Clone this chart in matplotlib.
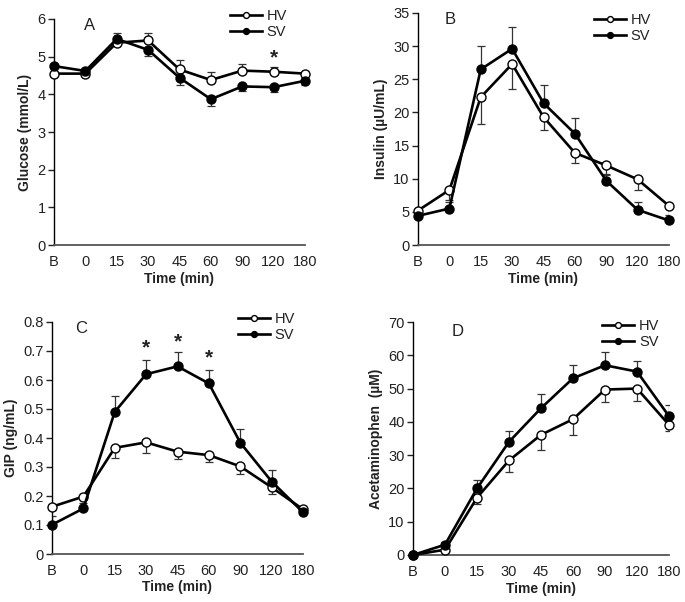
import matplotlib
matplotlib.use("Agg")
import matplotlib.pyplot as plt
import numpy as np

plt.rcParams['font.family'] = ['Liberation Sans', 'DejaVu Sans']

times = ["B", "0", "15", "30", "45", "60", "90", "120", "180"]

# Panel A - Glucose (mmol/L)
glu_hv = [4.55, 4.55, 5.37, 5.43, 4.66, 4.38, 4.63, 4.60, 4.55]
glu_hv_err = [0.05, 0.05, 0.25, 0.20, 0.25, 0.21, 0.18, 0.13, 0.05]
glu_sv = [4.75, 4.62, 5.47, 5.18, 4.44, 3.87, 4.21, 4.19, 4.36]
glu_sv_err = [0.05, 0.05, 0.10, 0.16, 0.20, 0.18, 0.11, 0.12, 0.10]

# Panel B - Insulin (µU/mL)
ins_hv = [5.2, 8.3, 22.3, 27.3, 19.3, 13.9, 12.0, 9.9, 5.9]
ins_hv_err = [0.5, 1.5, 4.0, 3.7, 2.0, 1.5, 1.4, 1.6, 1.3]
ins_sv = [4.4, 5.5, 26.5, 29.6, 21.4, 16.8, 9.7, 5.3, 3.7]
ins_sv_err = [0.4, 1.0, 3.5, 3.3, 2.8, 2.3, 1.0, 1.2, 0.5]

# Panel C - GIP (ng/mL)
gip_hv = [0.163, 0.198, 0.366, 0.385, 0.353, 0.341, 0.302, 0.230, 0.154]
gip_hv_err = [0.010, 0.010, 0.035, 0.035, 0.024, 0.025, 0.027, 0.022, 0.008]
gip_sv = [0.101, 0.157, 0.490, 0.620, 0.647, 0.588, 0.384, 0.250, 0.144]
gip_sv_err = [0.030, 0.020, 0.054, 0.050, 0.048, 0.047, 0.046, 0.040, 0.008]

# Panel D - Acetaminophen (µM)
ace_hv = [0.0, 1.6, 17.2, 28.4, 36.1, 40.8, 49.7, 50.0, 39.1]
ace_hv_err = [0.0, 0.5, 2.0, 3.4, 4.5, 4.8, 3.8, 3.6, 1.8]
ace_sv = [0.0, 3.1, 20.0, 34.0, 44.1, 53.1, 57.0, 55.1, 41.7]
ace_sv_err = [0.0, 0.8, 2.6, 3.2, 4.4, 4.1, 3.9, 3.3, 3.5]

panels = [
    dict(rect=[54/685, 1-245/602, 251/685, 226/602], hv=glu_hv, hve=glu_hv_err,
         sv=glu_sv, sve=glu_sv_err, hv_up=True, ylim=6, step=1, fmt="{:g}",
         ylabel="Glucose (mmol/L)", letter="A", letter_xy=(0.95, 5.82),
         stars=[(7, 4.98)], leg=(0.66, 1.09)),
    dict(rect=[418/685, 1-245/602, 251/685, 232/602], hv=ins_hv, hve=ins_hv_err,
         sv=ins_sv, sve=ins_sv_err, hv_up=False, ylim=35, step=5, fmt="{:g}",
         ylabel="Insulin (µU/mL)", letter="B", letter_xy=(0.85, 34.0),
         stars=[], leg=(0.66, 1.045)),
    dict(rect=[52/685, 1-554/602, 251/685, 232/602], hv=gip_hv, hve=gip_hv_err,
         sv=gip_sv, sve=gip_sv_err, hv_up=False, ylim=0.8, step=0.1, fmt="{:g}",
         ylabel="GIP (ng/mL)", letter="C", letter_xy=(0.75, 0.778),
         stars=[(3, 0.71), (4, 0.732), (5, 0.675)], leg=(0.70, 1.087)),
    dict(rect=[413/685, 1-555/602, 256/685, 233/602], hv=ace_hv, hve=ace_hv_err,
         sv=ace_sv, sve=ace_sv_err, hv_up=False, ylim=70, step=10, fmt="{:g}",
         ylabel="Acetaminophen  (µM)", letter="D", letter_xy=(1.2, 67.0),
         stars=[], leg=(0.70, 1.057)),
]

fig = plt.figure(figsize=(6.85, 6.02), dpi=100)
x = np.arange(len(times))
txtc = "#222222"

for p in panels:
    ax = fig.add_axes(p["rect"])
    hv = np.array(p["hv"]); sv = np.array(p["sv"])
    hve = np.array(p["hve"]); sve = np.array(p["sve"])
    if p["hv_up"]:
        hv_yerr = [np.zeros_like(hve), hve]
        sv_yerr = [sve, np.zeros_like(sve)]
    else:
        hv_yerr = [hve, np.zeros_like(hve)]
        sv_yerr = [np.zeros_like(sve), sve]
    ax.errorbar(x, hv, yerr=hv_yerr, fmt="none", ecolor="#333333",
                elinewidth=0.9, capsize=2.8, capthick=0.9, zorder=2)
    ax.errorbar(x, sv, yerr=sv_yerr, fmt="none", ecolor="#333333",
                elinewidth=0.9, capsize=2.8, capthick=0.9, zorder=2)
    ax.plot(x, hv, "-o", color="black", mfc="white", mec="black",
            ms=6.5, mew=1.0, lw=1.9, label="HV", zorder=3, clip_on=False)
    ax.plot(x, sv, "-o", color="black", mfc="black", mec="black",
            ms=6.5, mew=1.0, lw=1.9, label="SV", zorder=4, clip_on=False)
    ax.set_xlim(0, len(times) - 1)
    ax.set_ylim(0, p["ylim"])
    yt = np.arange(0, p["ylim"] + p["step"] / 2, p["step"])
    ax.set_yticks(yt)
    ax.set_yticklabels([p["fmt"].format(round(v, 2)) for v in yt])
    ax.set_xticks(x)
    ax.set_xticklabels(times)
    ax.tick_params(axis="x", length=0, pad=7, labelsize=10.5, colors=txtc)
    ax.tick_params(axis="y", length=4, width=1, direction="out", pad=2,
                   labelsize=10.5, colors=txtc)
    for s in ["top", "right"]:
        ax.spines[s].set_visible(False)
    ax.spines["left"].set_color("black")
    ax.spines["left"].set_linewidth(1.0)
    ax.spines["bottom"].set_color("#555555")
    ax.spines["bottom"].set_linewidth(1.3)
    ax.set_xlabel("Time (min)", fontsize=10, fontweight="bold", color=txtc,
                  labelpad=2)
    ax.set_ylabel(p["ylabel"], fontsize=10, fontweight="bold", color=txtc,
                  labelpad=4)
    ax.text(*p["letter_xy"], p["letter"], fontsize=12, color=txtc,
            ha="left", va="center")
    for sx, sy in p["stars"]:
        ax.text(sx, sy, "*", fontsize=15, fontweight="bold", ha="center",
                va="center", color=txtc)
    leg = ax.legend(loc="upper left", bbox_to_anchor=p["leg"], frameon=False,
                    fontsize=10.5, handlelength=2.2, handletextpad=0.3,
                    labelspacing=0.15, borderpad=0.2, markerscale=0.65)
    for t in leg.get_texts():
        t.set_color(txtc)

fig.savefig("out.png", dpi=100)
